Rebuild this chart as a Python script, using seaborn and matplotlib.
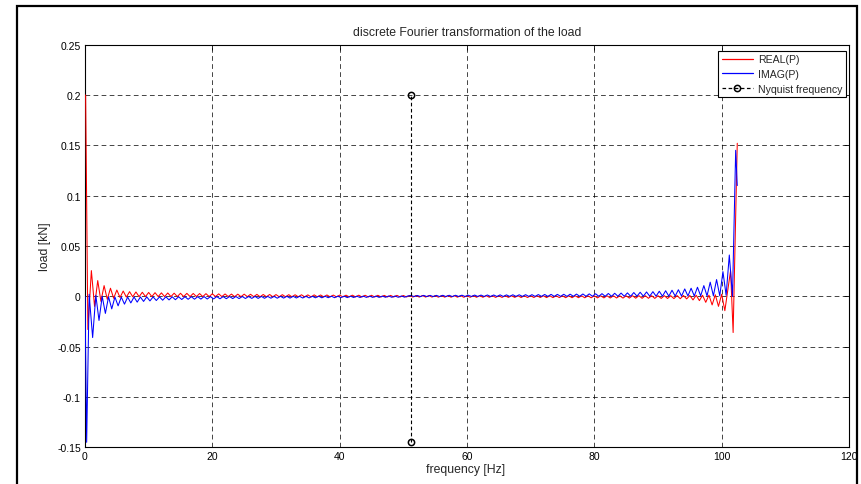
import numpy as np
import pandas as pd
import matplotlib
matplotlib.use("Agg")
import matplotlib.pyplot as plt
from matplotlib.patches import Rectangle
from matplotlib.lines import Line2D
import seaborn as sns

# ---------------- data ----------------
# REAL(P): special vertices at the ends, regular 1 Hz oscillation in between
red_start_freq = [0.1, 0.45]
red_start_vals = [0.200, -0.033]
# values at integer frequencies n = 1..100
red_at_int = [
    0.0255, 0.0156, 0.0106, 0.0080, 0.0062, 0.0052, 0.0046, 0.0043, 0.0040, 0.0038,
    0.0036, 0.0034, 0.0033, 0.0031, 0.0030, 0.0029, 0.0028, 0.0027, 0.0026, 0.0025,
    0.0024, 0.0023, 0.0022, 0.0021, 0.0021, 0.0020, 0.0019, 0.0018, 0.0018, 0.0017,
    0.0016, 0.0016, 0.0015, 0.0015, 0.0014, 0.0014, 0.0013, 0.0013, 0.0012, 0.0012,
    0.0011, 0.0011, 0.0011, 0.0010, 0.0010, 0.0010, 0.0009, 0.0009, 0.0009, 0.0008,
    0.0008, 0.0008, 0.0008, 0.0007, 0.0007, 0.0007, 0.0007, 0.0006, 0.0006, 0.0006,
    0.0006, 0.0006, 0.0006, 0.0005, 0.0005, 0.0005, 0.0005, 0.0005, 0.0005, 0.0005,
    0.0005, 0.0005, 0.0005, 0.0005, 0.0005, 0.0005, 0.0005, 0.0005, 0.0005, 0.0005,
    0.0005, 0.0005, 0.0005, 0.0005, 0.0005, 0.0006, 0.0006, 0.0006, 0.0006, 0.0006,
    0.0006, 0.0006, 0.0007, 0.0008, 0.0008, 0.0010, 0.0010, 0.0012, 0.0015, 0.0020,
]
# values at n + 0.5, n = 1..100
red_at_half = [
    -0.0100, -0.0050, -0.0030, -0.0020, -0.0012, -0.0008, -0.0005, -0.0004, -0.0003, -0.0003,
    -0.0003, -0.0003, -0.0003, -0.0003, -0.0003, -0.0003, -0.0003, -0.0003, -0.0003, -0.0003,
    -0.0003, -0.0003, -0.0004, -0.0004, -0.0004, -0.0004, -0.0005, -0.0005, -0.0005, -0.0005,
    -0.0005, -0.0005, -0.0005, -0.0006, -0.0006, -0.0006, -0.0006, -0.0006, -0.0006, -0.0006,
    -0.0006, -0.0006, -0.0007, -0.0007, -0.0007, -0.0007, -0.0007, -0.0007, -0.0007, -0.0007,
    -0.0008, -0.0008, -0.0008, -0.0008, -0.0009, -0.0009, -0.0009, -0.0009, -0.0010, -0.0010,
    -0.0010, -0.0010, -0.0010, -0.0011, -0.0011, -0.0011, -0.0011, -0.0012, -0.0012, -0.0012,
    -0.0012, -0.0013, -0.0013, -0.0013, -0.0014, -0.0014, -0.0014, -0.0015, -0.0015, -0.0016,
    -0.0016, -0.0017, -0.0017, -0.0018, -0.0018, -0.0019, -0.0020, -0.0020, -0.0021, -0.0021,
    -0.0022, -0.0023, -0.0024, -0.0026, -0.0036, -0.0043, -0.0060, -0.0086, -0.0100, -0.0143,
]
red_end_freq = [101.4, 101.8, 102.45]
red_end_vals = [0.0255, -0.036, 0.152]

# IMAG(P)
blue_start_freq = [0.0, 0.26, 0.65]
blue_start_vals = [0.0, -0.145, 0.002]
# values at n + 0.2, n = 1..100
blue_at_x2 = [
    -0.0410, -0.0240, -0.0170, -0.0125, -0.0095, -0.0078, -0.0066, -0.0058, -0.0051, -0.0046,
    -0.0042, -0.0039, -0.0036, -0.0034, -0.0032, -0.0030, -0.0029, -0.0028, -0.0027, -0.0026,
    -0.0025, -0.0024, -0.0023, -0.0023, -0.0022, -0.0021, -0.0021, -0.0020, -0.0019, -0.0019,
    -0.0018, -0.0018, -0.0017, -0.0017, -0.0016, -0.0015, -0.0015, -0.0014, -0.0014, -0.0013,
    -0.0013, -0.0012, -0.0012, -0.0011, -0.0011, -0.0011, -0.0010, -0.0010, -0.0010, -0.0009,
    0.0008, 0.0008, 0.0009, 0.0009, 0.0009, 0.0010, 0.0010, 0.0010, 0.0011, 0.0011,
    0.0012, 0.0012, 0.0013, 0.0013, 0.0014, 0.0014, 0.0015, 0.0015, 0.0016, 0.0016,
    0.0017, 0.0018, 0.0019, 0.0019, 0.0020, 0.0021, 0.0022, 0.0023, 0.0024, 0.0025,
    0.0026, 0.0028, 0.0030, 0.0032, 0.0034, 0.0037, 0.0040, 0.0043, 0.0046, 0.0050,
    0.0055, 0.0060, 0.0065, 0.0073, 0.0080, 0.0090, 0.0106, 0.0140, 0.0166, 0.0245,
]
# values at n + 0.7, n = 1..100
blue_at_x7 = [
    0.0010, 0.0000, -0.0005, -0.0007, -0.0008, -0.0008, -0.0007, -0.0007, -0.0006, -0.0006,
    -0.0006, -0.0005, -0.0005, -0.0005, -0.0004, -0.0004, -0.0004, -0.0003, -0.0003, -0.0003,
    -0.0003, -0.0002, -0.0002, -0.0002, -0.0002, -0.0001, -0.0001, -0.0001, -0.0001, 0.0000,
    0.0000, 0.0000, 0.0000, 0.0000, 0.0000, 0.0001, 0.0001, 0.0001, 0.0001, 0.0001,
    0.0001, 0.0001, 0.0002, 0.0002, 0.0002, 0.0002, 0.0003, 0.0003, 0.0003, 0.0003,
    -0.0003, -0.0003, -0.0003, -0.0003, -0.0003, -0.0003, -0.0003, -0.0002, -0.0002, -0.0002,
    -0.0002, -0.0002, -0.0002, -0.0002, -0.0002, -0.0001, -0.0001, -0.0001, -0.0001, -0.0001,
    -0.0001, -0.0001, -0.0001, -0.0001, -0.0001, 0.0000, 0.0000, 0.0000, 0.0000, 0.0000,
    0.0000, 0.0000, 0.0000, 0.0000, 0.0000, 0.0001, 0.0001, 0.0001, 0.0001, 0.0001,
    0.0001, 0.0002, 0.0002, 0.0003, 0.0003, 0.0004, 0.0004, 0.0005, 0.0005, 0.0010,
]
blue_end_freq = [101.2, 101.7, 102.2, 102.45]
blue_end_vals = [0.041, 0.000, 0.145, 0.110]

# Nyquist frequency marker
nyquist_freq = 51.2
nyquist_vals = [-0.145, 0.2]

series_labels = ["REAL(P)", "IMAG(P)", "Nyquist frequency"]
x_ticks = [0, 20, 40, 60, 80, 100, 120]
y_ticks = [-0.15, -0.1, -0.05, 0, 0.05, 0.1, 0.15, 0.2, 0.25]
y_tick_labels = ["-0.15", "-0.1", "-0.05", "0", "0.05", "0.1", "0.15", "0.2", "0.25"]

# ---------------- assemble series ----------------
n = np.arange(1, 101)
red_f = np.concatenate([red_start_freq,
                        np.ravel(np.column_stack([n, n + 0.5])),
                        red_end_freq])
red_v = np.concatenate([red_start_vals,
                        np.ravel(np.column_stack([red_at_int, red_at_half])),
                        red_end_vals])
blue_f = np.concatenate([blue_start_freq,
                         np.ravel(np.column_stack([n + 0.2, n + 0.7])),
                         blue_end_freq])
blue_v = np.concatenate([blue_start_vals,
                         np.ravel(np.column_stack([blue_at_x2, blue_at_x7])),
                         blue_end_vals])

df_red = pd.DataFrame({"f": red_f, "v": red_v})
df_blue = pd.DataFrame({"f": blue_f, "v": blue_v})
df_nyq = pd.DataFrame({"f": [nyquist_freq, nyquist_freq], "v": nyquist_vals})

# ---------------- plot ----------------
sns.set_style("white")
plt.rcParams["font.family"] = ["Liberation Sans", "DejaVu Sans"]
plt.rcParams["lines.scale_dashes"] = False

RED, BLUE = "#ff0000", "#0000ff"
NYQ_DASH = (0, (2.6, 1.8))

W, H = 861, 485
fig = plt.figure(figsize=(W / 100, H / 100), dpi=100)
ax_l, ax_r, ax_t, ax_b = 85, 849, 45.6, 448.3
ax = fig.add_axes([ax_l / W, 1 - ax_b / H, (ax_r - ax_l) / W, (ax_b - ax_t) / H])

sns.lineplot(data=df_red, x="f", y="v", ax=ax, color=RED, lw=0.75,
             estimator=None, sort=False, legend=False)
sns.lineplot(data=df_blue, x="f", y="v", ax=ax, color=BLUE, lw=0.75,
             estimator=None, sort=False, legend=False)
sns.lineplot(data=df_nyq, x="f", y="v", ax=ax, color="k", lw=0.8,
             linestyle=NYQ_DASH, marker="o", markersize=4.5,
             markerfacecolor="none", markeredgecolor="k", markeredgewidth=1.1,
             estimator=None, sort=False, legend=False)
for ln in ax.lines:
    ln.set_zorder(3)

ax.set_xlim(0, 120)
ax.set_ylim(-0.15, 0.25)
ax.set_xticks(x_ticks)
ax.set_xticklabels([str(t) for t in x_ticks])
ax.set_yticks(y_ticks)
ax.set_yticklabels(y_tick_labels)

ax.grid(True, color="k", lw=0.6, linestyle=(0, (3.4, 2.4)), alpha=0.85)
ax.set_axisbelow(True)
for s in ax.spines.values():
    s.set_color("k")
    s.set_linewidth(0.8)
ax.tick_params(direction="in", top=True, right=True, length=3.5, width=0.6,
               labelsize=7.5, pad=3, colors="k")

ax.set_xlabel("frequency [Hz]", fontsize=8.8)
ax.set_ylabel("load [kN]", fontsize=8.8)
ax.xaxis.set_label_coords((466 - ax_l) / (ax_r - ax_l), -(470 - ax_b) / (ax_b - ax_t))
ax.yaxis.set_label_coords(-(ax_l - 45) / (ax_r - ax_l), 0.5)
ax.xaxis.label.set_va("center")
ax.yaxis.label.set_va("center")
ax.text(0.5, 1 + (ax_t - 33) / (ax_b - ax_t), "discrete Fourier transformation of the load",
        transform=ax.transAxes, ha="center", va="center", fontsize=8.8)

handles = [
    Line2D([], [], color=RED, lw=0.9),
    Line2D([], [], color=BLUE, lw=0.9),
    Line2D([], [], color="k", lw=0.9, linestyle=NYQ_DASH, marker="o",
           markersize=4.5, markerfacecolor="none", markeredgecolor="k",
           markeredgewidth=1.1),
]
leg = ax.legend(handles, series_labels, loc="upper right",
                bbox_to_anchor=(1 - 3 / (ax_r - ax_l), 1 - 6 / (ax_b - ax_t)),
                borderaxespad=0, fontsize=7.6, handlelength=3.0, labelspacing=0.45,
                fancybox=False, framealpha=1, edgecolor="k", borderpad=0.35,
                handletextpad=0.45)
leg.get_frame().set_linewidth(0.8)

# outer figure frame
fig.add_artist(Rectangle((16.5 / W, -0.02), (857 - 16.5) / W, 1 - 7 / H + 0.02,
                         transform=fig.transFigure, fill=False, lw=1.6,
                         edgecolor="k"))

fig.savefig("out.png", dpi=100)
